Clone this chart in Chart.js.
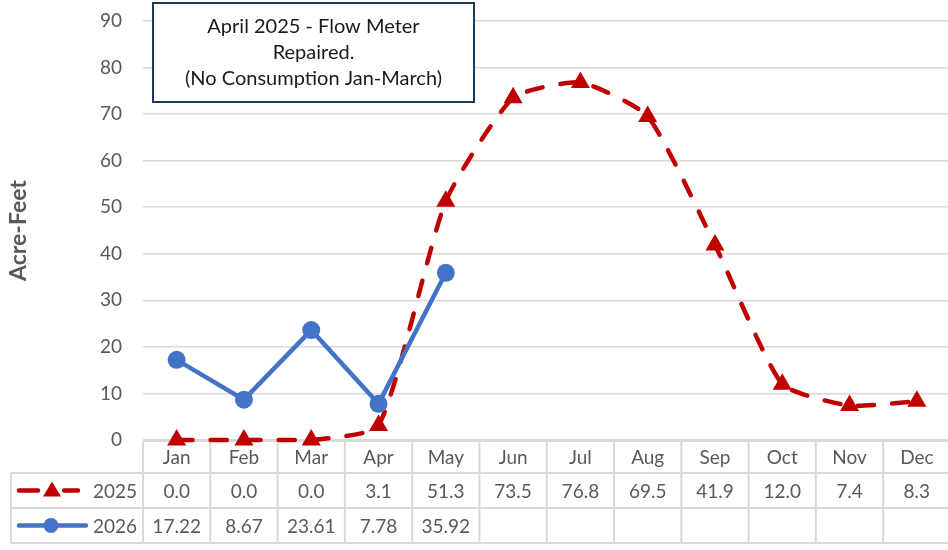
<!DOCTYPE html>
<html lang="en">
<head>
  <meta charset="UTF-8">
  <title>Acre-Feet by Month</title>
  <script src="https://cdn.jsdelivr.net/npm/chart.js"></script>
  <style>
    html, body { margin: 0; padding: 0; background: #fff; }
    #wrap { width: 948px; height: 550px; }
  </style>
</head>
<body>
  <div id="wrap"><canvas id="flowChart" width="948" height="550"></canvas></div>

  <script>
    const months = ['Jan', 'Feb', 'Mar', 'Apr', 'May', 'Jun', 'Jul', 'Aug', 'Sep', 'Oct', 'Nov', 'Dec'];
    const values2025 = [0.0, 0.0, 0.0, 3.1, 51.3, 73.5, 76.8, 69.5, 41.9, 12.0, 7.4, 8.3];
    const values2026 = [17.22, 8.67, 23.61, 7.78, 35.92, null, null, null, null, null, null, null];
    const noteLines = ['April 2025 - Flow Meter', 'Repaired.', '(No Consumption Jan-March)'];

    const RED = '#c00000';
    const BLUE = '#4472c4';
    const GRAY_TEXT = '#595959';
    const GRID = '#d9d9d9';
    const FONT = 'Lato, Calibri, "Open Sans", sans-serif';

    // the table in the original is cut off a couple of px past the right edge
    const stretchX = {
      id: 'stretchX',
      afterLayout(chart) {
        const x = chart.scales.x;
        x.right += 2.5;
        x.width += 2.5;
        x.configure();
      }
    };

    // data table under the plot, Excel style
    const tablePlugin = {
      id: 'dataTable',
      beforeDatasetsDraw(chart) {
        const { ctx, scales: { x, y } } = chart;
        const colW = x.getPixelForValue(1) - x.getPixelForValue(0);
        const left = x.getPixelForValue(0) - colW / 2;
        const right = left + colW * months.length;
        const top = y.getPixelForValue(0) + 1;
        const r1 = top + 32, r2 = r1 + 35, r3 = r2 + 35;
        const legLeft = 11;

        ctx.save();
        ctx.strokeStyle = GRID;
        ctx.lineWidth = 2;
        ctx.beginPath();
        ctx.moveTo(left, top); ctx.lineTo(right, top);
        [r1, r2, r3].forEach(yy => { ctx.moveTo(legLeft, yy); ctx.lineTo(right, yy); });
        ctx.moveTo(legLeft, r1); ctx.lineTo(legLeft, r3);
        for (let i = 0; i <= months.length; i++) {
          const xe = left + i * colW;
          ctx.moveTo(xe, top); ctx.lineTo(xe, r3);
        }
        ctx.stroke();

        ctx.fillStyle = GRAY_TEXT;
        ctx.font = '19px ' + FONT;
        ctx.textAlign = 'center';
        ctx.textBaseline = 'middle';
        months.forEach((m, i) => {
          const cx = x.getPixelForValue(i);
          ctx.fillText(m, cx, (top + r1) / 2 + 1);
          if (values2025[i] != null) ctx.fillText(values2025[i].toFixed(1), cx, (r1 + r2) / 2 + 1);
          if (values2026[i] != null) ctx.fillText(values2026[i].toFixed(2), cx, (r2 + r3) / 2 + 1);
        });

        // legend keys
        ctx.textAlign = 'right';
        const y1 = (r1 + r2) / 2, y2 = (r2 + r3) / 2;
        ctx.fillText('2025', 137, y1 + 1);
        ctx.fillText('2026', 137, y2 + 1);

        ctx.strokeStyle = RED;
        ctx.lineWidth = 4.5;
        ctx.lineCap = 'round';
        ctx.beginPath();
        ctx.moveTo(19, y1); ctx.lineTo(38, y1);
        ctx.moveTo(64, y1); ctx.lineTo(78, y1);
        ctx.stroke();
        ctx.fillStyle = RED;
        ctx.beginPath();
        ctx.moveTo(52, y1 - 9); ctx.lineTo(61, y1 + 6); ctx.lineTo(43, y1 + 6);
        ctx.closePath();
        ctx.fill();

        ctx.strokeStyle = BLUE;
        ctx.beginPath();
        ctx.moveTo(19, y2); ctx.lineTo(86, y2);
        ctx.stroke();
        ctx.fillStyle = BLUE;
        ctx.beginPath();
        ctx.arc(51, y2, 7.5, 0, Math.PI * 2);
        ctx.fill();
        ctx.restore();
      }
    };

    // note box in the upper left of the plot
    const notePlugin = {
      id: 'noteBox',
      afterDraw(chart) {
        const { ctx, chartArea: a } = chart;
        const bx = a.left + 10, by = 3, bw = 321, bh = 99;
        ctx.save();
        ctx.fillStyle = '#fff';
        ctx.fillRect(bx, by, bw, bh);
        ctx.strokeStyle = '#1f3864';
        ctx.lineWidth = 2;
        ctx.strokeRect(bx, by, bw, bh);
        ctx.fillStyle = '#1a1a1a';
        ctx.font = '20px ' + FONT;
        ctx.textAlign = 'center';
        ctx.textBaseline = 'middle';
        noteLines.forEach((t, i) => ctx.fillText(t, bx + bw / 2, by + 24 + i * 26));
        ctx.restore();
      }
    };

    new Chart(document.getElementById('flowChart'), {
      type: 'line',
      data: {
        labels: months,
        datasets: [
          {
            label: '2025',
            data: values2025,
            borderColor: RED,
            backgroundColor: RED,
            borderWidth: 4.5,
            borderDash: [16, 18],
            borderCapStyle: 'round',
            tension: 0.18,
            pointStyle: 'triangle',
            pointRadius: 11,
            pointBorderWidth: 0,
            clip: false,
            order: 1
          },
          {
            label: '2026',
            data: values2026,
            borderColor: BLUE,
            backgroundColor: BLUE,
            borderWidth: 4.5,
            tension: 0,
            pointStyle: 'circle',
            pointRadius: 9,
            pointBorderWidth: 0,
            clip: false,
            order: 0
          }
        ]
      },
      options: {
        responsive: false,
        animation: false,
        layout: { autoPadding: false, padding: { top: 21, bottom: 110, left: 0, right: 0 } },
        plugins: {
          legend: { display: false },
          tooltip: { enabled: false }
        },
        scales: {
          x: {
            display: false,
            offset: true
          },
          y: {
            min: 0,
            max: 90,
            afterFit(scale) { scale.width = 143; },
            ticks: {
              stepSize: 10,
              padding: 1,
              color: GRAY_TEXT,
              font: { family: FONT, size: 19 }
            },
            grid: { color: GRID, lineWidth: 1.5, drawTicks: true, tickLength: 20, tickColor: 'rgba(0,0,0,0)' },
            border: { display: false },
            title: {
              display: true,
              text: 'Acre-Feet',
              color: GRAY_TEXT,
              font: { family: FONT, size: 23, weight: 'bold' },
              padding: { top: 5, bottom: 0 }
            }
          }
        }
      },
      plugins: [stretchX, tablePlugin, notePlugin]
    });
  </script>
</body>
</html>
